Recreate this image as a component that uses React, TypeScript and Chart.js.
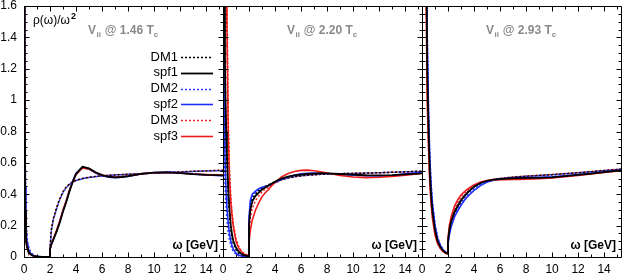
import React, { useEffect, useRef } from "react";
import { Chart, registerables } from "chart.js";

Chart.register(...registerables);

// ---------- data ----------
const OMEGA = [
  0, 0.05, 0.1, 0.15, 0.2, 0.25, 0.3, 0.4, 0.5, 0.6, 0.7, 0.8, 1.0, 1.2, 1.4, 1.6, 1.8, 2.0,
  2.0, 2.1, 2.25, 2.5, 2.75, 3.0, 3.25, 3.5, 3.75, 4.0, 4.5, 5.0, 5.5, 6.0, 6.5, 7.0, 7.5, 8.0,
  9.0, 10.0, 11.0, 12.0, 13.0, 14.0, 15.3,
];

const X_TICKS = [0, 2, 4, 6, 8, 10, 12, 14];
const Y_TICKS = [0, 0.2, 0.4, 0.6, 0.8, 1.0, 1.2, 1.4, 1.6];
const SERIES_NAMES = ["DM1", "spf1", "DM2", "spf2", "DM3", "spf3"];
const TEMPERATURES = ["1.46", "2.20", "2.93"];

// panel 1 : 1.46 Tc
const DM1_146 = [8, 1.5, 0.32, 0.13, 0.085, 0.062, 0.047, 0.029, 0.019, 0.012, 0.008, 0.006, 0.003, 0.002, 0.001, 0.0005, 0, 0,
  0.05, 0.17, 0.24, 0.31, 0.37, 0.415, 0.445, 0.465, 0.478, 0.488, 0.5, 0.508, 0.513, 0.517, 0.52, 0.523, 0.525, 0.527, 0.531, 0.535, 0.539, 0.542, 0.546, 0.549, 0.552];
const SPF1_146 = [8, 1.4, 0.3, 0.12, 0.08, 0.06, 0.045, 0.028, 0.018, 0.012, 0.008, 0.006, 0.003, 0.002, 0.001, 0.0005, 0, 0,
  0.05, 0.08, 0.11, 0.16, 0.22, 0.29, 0.35, 0.42, 0.48, 0.53, 0.575, 0.565, 0.54, 0.522, 0.512, 0.508, 0.51, 0.515, 0.53, 0.538, 0.54, 0.535, 0.528, 0.523, 0.52];
const DM2_146 = [8, 2.0, 0.6, 0.3, 0.18, 0.12, 0.09, 0.055, 0.035, 0.022, 0.014, 0.009, 0.004, 0.002, 0.001, 0.0005, 0, 0,
  0.05, 0.165, 0.235, 0.305, 0.365, 0.41, 0.442, 0.463, 0.477, 0.487, 0.499, 0.507, 0.512, 0.516, 0.52, 0.523, 0.525, 0.527, 0.531, 0.535, 0.538, 0.541, 0.545, 0.548, 0.551];
const SPF2_146 = [8, 1.8, 0.45, 0.2, 0.12, 0.085, 0.06, 0.038, 0.024, 0.016, 0.011, 0.008, 0.004, 0.002, 0.001, 0.0005, 0, 0,
  0.05, 0.08, 0.11, 0.165, 0.225, 0.295, 0.355, 0.425, 0.485, 0.532, 0.574, 0.56, 0.535, 0.518, 0.508, 0.505, 0.508, 0.514, 0.53, 0.539, 0.541, 0.536, 0.529, 0.523, 0.519];
const DM3_146 = [8, 1.4, 0.3, 0.12, 0.08, 0.058, 0.044, 0.027, 0.018, 0.012, 0.008, 0.006, 0.003, 0.002, 0.001, 0.0005, 0, 0,
  0.05, 0.175, 0.245, 0.315, 0.372, 0.417, 0.447, 0.466, 0.479, 0.489, 0.501, 0.509, 0.514, 0.518, 0.521, 0.524, 0.526, 0.528, 0.532, 0.536, 0.54, 0.543, 0.547, 0.55, 0.553];
const SPF3_146 = [8, 1.3, 0.28, 0.11, 0.075, 0.055, 0.042, 0.026, 0.017, 0.011, 0.008, 0.006, 0.003, 0.002, 0.001, 0.0005, 0, 0,
  0.05, 0.08, 0.115, 0.17, 0.23, 0.3, 0.36, 0.425, 0.48, 0.525, 0.567, 0.56, 0.538, 0.522, 0.513, 0.51, 0.511, 0.516, 0.53, 0.537, 0.539, 0.535, 0.529, 0.525, 0.522];

// panel 2 : 2.20 Tc
const DM1_220 = [8, 3.5, 1.5, 1.1, 0.88, 0.72, 0.6, 0.4, 0.27, 0.18, 0.12, 0.085, 0.045, 0.025, 0.014, 0.008, 0.005, 0.003,
  0.22, 0.32, 0.37, 0.4, 0.42, 0.437, 0.45, 0.46, 0.47, 0.48, 0.495, 0.505, 0.512, 0.518, 0.522, 0.525, 0.527, 0.529, 0.531, 0.533, 0.535, 0.537, 0.54, 0.543, 0.547];
const SPF1_220 = [8, 4, 1.7, 1.25, 0.98, 0.8, 0.66, 0.44, 0.3, 0.2, 0.14, 0.1, 0.06, 0.035, 0.02, 0.012, 0.008, 0.005,
  0.2, 0.3, 0.355, 0.39, 0.41, 0.43, 0.443, 0.456, 0.468, 0.48, 0.5, 0.512, 0.52, 0.525, 0.529, 0.532, 0.534, 0.533, 0.529, 0.525, 0.521, 0.52, 0.522, 0.527, 0.533];
const DM2_220 = [8, 1.3, 0.7, 0.5, 0.38, 0.3, 0.24, 0.16, 0.11, 0.075, 0.05, 0.035, 0.017, 0.008, 0.004, 0.002, 0.001, 0,
  0.24, 0.34, 0.385, 0.41, 0.428, 0.44, 0.45, 0.458, 0.466, 0.475, 0.492, 0.503, 0.511, 0.517, 0.521, 0.524, 0.527, 0.529, 0.531, 0.533, 0.535, 0.537, 0.54, 0.543, 0.546];
const SPF2_220 = [8, 1.6, 0.9, 0.65, 0.5, 0.4, 0.32, 0.22, 0.15, 0.1, 0.07, 0.05, 0.025, 0.012, 0.006, 0.003, 0.002, 0.001,
  0.25, 0.36, 0.4, 0.42, 0.435, 0.445, 0.45, 0.455, 0.462, 0.475, 0.495, 0.51, 0.522, 0.53, 0.534, 0.535, 0.534, 0.532, 0.527, 0.522, 0.518, 0.516, 0.52, 0.53, 0.54];
const DM3_220 = [8, 7, 5, 3.6, 2.7, 2.1, 1.65, 0.9, 0.55, 0.38, 0.28, 0.21, 0.12, 0.07, 0.04, 0.024, 0.015, 0.01,
  0.15, 0.25, 0.31, 0.36, 0.39, 0.415, 0.432, 0.447, 0.46, 0.472, 0.49, 0.503, 0.511, 0.517, 0.521, 0.524, 0.527, 0.529, 0.531, 0.533, 0.535, 0.537, 0.54, 0.543, 0.546];
const SPF3_220 = [8, 6, 4.5, 3.3, 2.5, 2.0, 1.5, 0.8, 0.5, 0.35, 0.26, 0.19, 0.1, 0.06, 0.035, 0.02, 0.012, 0.008,
  0.1, 0.17, 0.235, 0.3, 0.345, 0.385, 0.41, 0.43, 0.455, 0.475, 0.51, 0.532, 0.545, 0.552, 0.554, 0.55, 0.543, 0.535, 0.52, 0.51, 0.506, 0.508, 0.514, 0.522, 0.532];

// panel 3 : 2.93 Tc
const DM1_293 = [10, 9, 7.5, 6, 4.6, 3.3, 2.3, 1.25, 0.85, 0.56, 0.4, 0.3, 0.175, 0.105, 0.068, 0.044, 0.029, 0.021,
  0.1, 0.17, 0.23, 0.29, 0.33, 0.365, 0.39, 0.413, 0.432, 0.448, 0.47, 0.485, 0.494, 0.5, 0.505, 0.509, 0.512, 0.515, 0.52, 0.525, 0.531, 0.537, 0.544, 0.551, 0.56];
const SPF1_293 = [10, 9, 7.5, 6, 4.5, 3.2, 2.2, 1.2, 0.82, 0.54, 0.39, 0.29, 0.17, 0.1, 0.065, 0.042, 0.028, 0.02,
  0.1, 0.17, 0.23, 0.285, 0.325, 0.36, 0.387, 0.41, 0.43, 0.448, 0.472, 0.486, 0.493, 0.497, 0.5, 0.502, 0.503, 0.504, 0.505, 0.508, 0.515, 0.523, 0.532, 0.541, 0.552];
const DM2_293 = [10, 9.5, 8, 6.5, 5.1, 3.7, 2.7, 1.45, 0.95, 0.64, 0.47, 0.35, 0.21, 0.125, 0.078, 0.05, 0.033, 0.023,
  0.09, 0.155, 0.21, 0.27, 0.31, 0.345, 0.372, 0.397, 0.417, 0.435, 0.462, 0.48, 0.491, 0.498, 0.503, 0.507, 0.511, 0.514, 0.519, 0.524, 0.53, 0.536, 0.543, 0.55, 0.559];
const SPF2_293 = [10, 9.5, 8, 6.5, 5, 3.6, 2.6, 1.4, 0.92, 0.62, 0.45, 0.34, 0.2, 0.12, 0.075, 0.048, 0.032, 0.022,
  0.08, 0.14, 0.195, 0.255, 0.295, 0.33, 0.36, 0.385, 0.405, 0.425, 0.455, 0.478, 0.49, 0.497, 0.5, 0.503, 0.505, 0.506, 0.508, 0.511, 0.517, 0.525, 0.534, 0.543, 0.554];
const DM3_293 = [10, 8.5, 7, 5.5, 4.1, 2.9, 1.9, 1.05, 0.72, 0.48, 0.35, 0.26, 0.145, 0.088, 0.057, 0.037, 0.025, 0.018,
  0.11, 0.185, 0.245, 0.305, 0.345, 0.38, 0.405, 0.425, 0.442, 0.456, 0.476, 0.488, 0.496, 0.501, 0.506, 0.51, 0.513, 0.516, 0.521, 0.526, 0.532, 0.538, 0.545, 0.552, 0.561];
const SPF3_293 = [10, 8.5, 7, 5.5, 4, 2.8, 1.8, 1.0, 0.7, 0.47, 0.34, 0.25, 0.14, 0.085, 0.055, 0.036, 0.024, 0.018,
  0.12, 0.2, 0.26, 0.325, 0.365, 0.395, 0.415, 0.432, 0.447, 0.46, 0.478, 0.488, 0.491, 0.492, 0.493, 0.494, 0.495, 0.496, 0.499, 0.504, 0.512, 0.52, 0.529, 0.539, 0.55];

const PANEL_SERIES = [
  [DM1_146, SPF1_146, DM2_146, SPF2_146, DM3_146, SPF3_146],
  [DM1_220, SPF1_220, DM2_220, SPF2_220, DM3_220, SPF3_220],
  [DM1_293, SPF1_293, DM2_293, SPF2_293, DM3_293, SPF3_293],
];

// ---------- styles ----------
const FONT = '"Liberation Sans", Arial, Helvetica, sans-serif';
const STYLES = [
  { color: "#000000", width: 1.5, dash: [2, 2], order: 3 },
  { color: "#000000", width: 1.8, dash: [], order: 0 },
  { color: "#2a3cff", width: 1.5, dash: [2, 2], order: 4 },
  { color: "#1f2fff", width: 1.6, dash: [], order: 2 },
  { color: "#ee2222", width: 1.5, dash: [2, 2], order: 5 },
  { color: "#ee1c1c", width: 1.6, dash: [], order: 1 },
];

const LAYOUTS = [
  { left: 0, width: 231, pad: { left: 0, right: 8, top: 6, bottom: 0 } },
  { left: 215, width: 215, pad: { left: 8, right: 8, top: 6, bottom: 0 } },
  { left: 414, width: 209, pad: { left: 8, right: 2, top: 6, bottom: 0 } },
];

function decoPlugin(panel: number) {
  return {
    id: "deco" + panel,
    afterDraw(chart: any) {
      const { ctx, chartArea: a, scales } = chart;
      const xs = scales.x;
      const ys = scales.y;
      ctx.save();
      ctx.setLineDash([]);
      ctx.strokeStyle = "#000";
      ctx.lineWidth = 1;
      const L = Math.round(a.left) + 0.5;
      const R = Math.round(a.right) + 0.5;
      const T = Math.round(a.top) + 0.5;
      const B = Math.round(a.bottom) + 0.5;
      ctx.beginPath();
      ctx.rect(L, T, R - L, B - T);
      for (let v = 0; v <= 15; v++) {
        const px = Math.round(xs.getPixelForValue(v)) + 0.5;
        const len = v % 2 === 0 ? 5 : 3;
        ctx.moveTo(px, B);
        ctx.lineTo(px, B - len);
        ctx.moveTo(px, T);
        ctx.lineTo(px, T + len);
      }
      for (let k = 0; k <= 32; k++) {
        const py = Math.round(ys.getPixelForValue(k * 0.05)) + 0.5;
        const len = k % 4 === 0 ? 5 : 3;
        ctx.moveTo(L, py);
        ctx.lineTo(L + len, py);
        ctx.moveTo(R, py);
        ctx.lineTo(R - len, py);
      }
      ctx.stroke();

      // panel title
      ctx.fillStyle = "#8a8a8a";
      ctx.textAlign = "left";
      ctx.textBaseline = "alphabetic";
      let x = a.left + 64;
      const y = a.top + 28;
      const big = `bold 12px ${FONT}`;
      const small = `bold 8px ${FONT}`;
      ctx.font = big;
      ctx.fillText("V", x, y);
      x += ctx.measureText("V").width;
      ctx.font = small;
      ctx.fillText("ii", x + 0.5, y + 3);
      x += ctx.measureText("ii").width + 1;
      ctx.font = big;
      const mid = " @ " + TEMPERATURES[panel] + " T";
      ctx.fillText(mid, x, y);
      x += ctx.measureText(mid).width;
      ctx.font = small;
      ctx.fillText("c", x, y + 3);

      // x axis title
      ctx.fillStyle = "#000";
      ctx.font = `bold 12px ${FONT}`;
      ctx.textAlign = "right";
      ctx.fillText("ω [GeV]", a.right - 5, a.bottom - 8);

      if (panel === 0) {
        // y label
        ctx.textAlign = "left";
        ctx.font = `12px ${FONT}`;
        const lab = "ρ(ω)/ω";
        ctx.fillText(lab, a.left + 9, a.top + 18);
        const w = ctx.measureText(lab).width;
        ctx.font = `bold 9px ${FONT}`;
        ctx.fillText("2", a.left + 9 + w + 1, a.top + 13);

        // legend
        ctx.font = `13px ${FONT}`;
        ctx.textBaseline = "middle";
        chart.data.datasets.forEach((ds: any, i: number) => {
          const ly = a.top + 51 + i * 15.8;
          ctx.textAlign = "right";
          ctx.fillStyle = "#000";
          ctx.fillText(ds.label, a.left + 154, ly);
          ctx.strokeStyle = ds.borderColor;
          ctx.lineWidth = ds.borderWidth;
          ctx.setLineDash(ds.borderDash || []);
          ctx.beginPath();
          const yy = Math.round(ly) + 0.5;
          ctx.moveTo(a.left + 157, yy);
          ctx.lineTo(a.left + 189, yy);
          ctx.stroke();
        });
      }
      ctx.restore();
    },
  };
}

function buildConfig(panel: number): any {
  const first = panel === 0;
  const datasets = PANEL_SERIES[panel].map((ys, i) => ({
    label: SERIES_NAMES[i],
    data: OMEGA.map((x, k) => ({ x, y: ys[k] })),
    borderColor: STYLES[i].color,
    borderWidth: STYLES[i].width,
    borderDash: STYLES[i].dash,
    order: STYLES[i].order,
    pointRadius: 0,
    fill: false,
    tension: 0,
  }));
  const zeroPad = (s: any) => {
    s.paddingTop = 0;
    s.paddingBottom = 0;
    s.paddingLeft = 0;
    s.paddingRight = 0;
  };
  return {
    type: "line",
    data: { datasets },
    options: {
      responsive: false,
      maintainAspectRatio: false,
      devicePixelRatio: 1,
      animation: false,
      layout: { padding: LAYOUTS[panel].pad },
      plugins: { legend: { display: false }, tooltip: { enabled: false } },
      scales: {
        x: {
          type: "linear",
          min: 0,
          max: 15.3,
          afterBuildTicks: (s: any) => {
            s.ticks = X_TICKS.map((v) => ({ value: v }));
          },
          afterFit: (s: any) => {
            s.height = 18;
            zeroPad(s);
          },
          ticks: {
            autoSkip: false,
            maxRotation: 0,
            padding: 5,
            color: "#000",
            font: { family: FONT, size: 12 },
            callback: (v: any) => String(v),
          },
          grid: { display: false, drawTicks: false },
          border: { display: false },
        },
        y: {
          type: "linear",
          min: 0,
          max: 1.6,
          display: first,
          afterBuildTicks: (s: any) => {
            s.ticks = Y_TICKS.map((v) => ({ value: v }));
          },
          afterFit: (s: any) => {
            s.width = first ? 24 : 0;
            zeroPad(s);
          },
          ticks: {
            padding: 7,
            color: "#000",
            font: { family: FONT, size: 12 },
            callback: (v: any) => String(Math.round(v * 10) / 10),
          },
          grid: { display: false, drawTicks: false },
          border: { display: false },
        },
      },
    },
    plugins: [decoPlugin(panel)],
  };
}

export default function App() {
  const r0 = useRef<HTMLCanvasElement>(null);
  const r1 = useRef<HTMLCanvasElement>(null);
  const r2 = useRef<HTMLCanvasElement>(null);
  useEffect(() => {
    const refs = [r0, r1, r2];
    const charts = refs.map((r, i) => new Chart(r.current as HTMLCanvasElement, buildConfig(i)));
    return () => charts.forEach((c) => c.destroy());
  }, []);
  const refs = [r0, r1, r2];
  return (
    <div style={{ position: "absolute", left: 0, top: 0, width: 623, height: 275, background: "#fff", overflow: "hidden" }}>
      {LAYOUTS.map((l, i) => (
        <canvas
          key={i}
          ref={refs[i]}
          width={l.width}
          height={275}
          style={{ position: "absolute", left: l.left, top: 0, width: l.width, height: 275 }}
        />
      ))}
    </div>
  );
}
